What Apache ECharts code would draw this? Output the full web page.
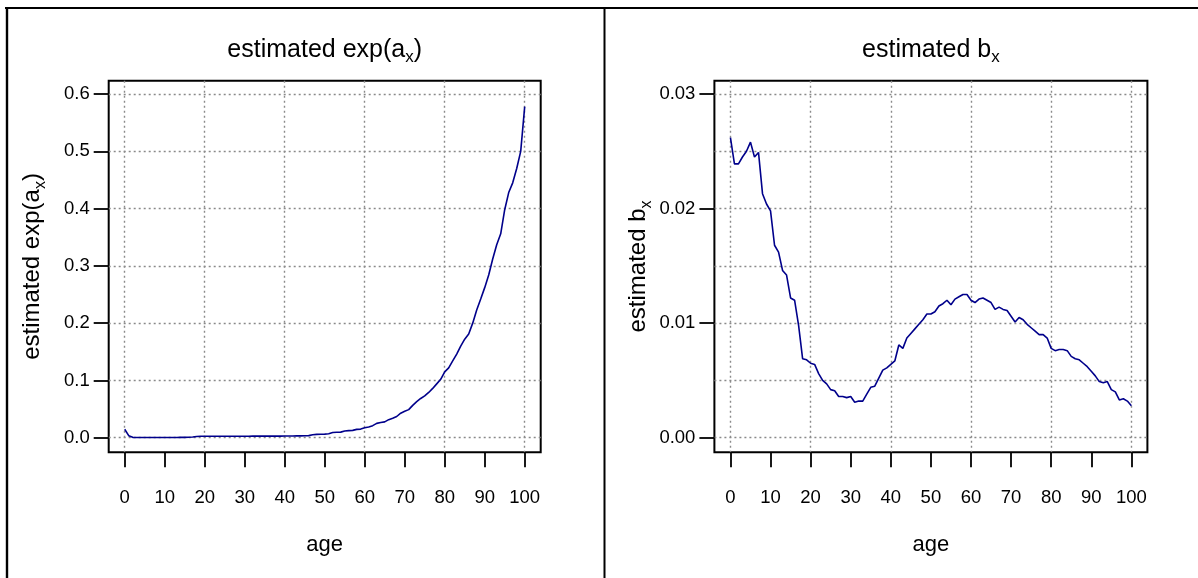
<!DOCTYPE html>
<html>
<head>
<meta charset="utf-8">
<script src="https://cdn.jsdelivr.net/npm/echarts@6/dist/echarts.min.js"></script>
<style>
  html, body { margin: 0; padding: 0; background: #fff; }
  #chart { width: 1198px; height: 578px; }
</style>
</head>
<body>
<div id="chart"></div>
<script>
// ---------- data ----------
const ages = [0,1,2,3,4,5,6,7,8,9,10,11,12,13,14,15,16,17,18,19,20,21,22,23,24,25,26,27,28,29,30,
  31,32,33,34,35,36,37,38,39,40,41,42,43,44,45,46,47,48,49,50,51,52,53,54,55,56,57,58,59,60,
  61,62,63,64,65,66,67,68,69,70,71,72,73,74,75,76,77,78,79,80,81,82,83,84,85,86,87,88,89,90,
  91,92,93,94,95,96,97,98,99,100];

const expAx = [0.0147,0.0035,0.0006,0.0004,0.0003,0.0003,0.0003,0.0003,0.0003,0.0003,
  0.0003,0.0003,0.0004,0.0004,0.0005,0.0006,0.0008,0.0012,0.0022,0.0025,
  0.0026,0.0026,0.0026,0.0026,0.0026,0.0026,0.0026,0.0026,0.0026,0.0026,
  0.0026,0.0026,0.0027,0.0027,0.0027,0.0027,0.0027,0.0028,0.0028,0.0028,
  0.0029,0.0029,0.0030,0.0031,0.0032,0.0033,0.0036,0.0052,0.0058,0.0060,
  0.0062,0.0068,0.0090,0.0094,0.0097,0.0118,0.0123,0.0128,0.0145,0.0150,
  0.0172,0.0188,0.0210,0.0250,0.0266,0.0276,0.0315,0.0340,0.0370,0.0428,
  0.0460,0.0490,0.0565,0.0630,0.0685,0.0730,0.0790,0.0860,0.0940,0.1020,
  0.1150,0.1220,0.1340,0.1460,0.1600,0.1720,0.1810,0.2000,0.2230,0.2420,
  0.2620,0.2840,0.3120,0.3370,0.3560,0.3980,0.4280,0.4450,0.4700,0.5000,
  0.5780];

const bx = [0.0262,0.0239,0.0239,0.0245,0.0250,0.0258,0.0245,0.0249,0.0213,0.0204,
  0.0198,0.0168,0.0162,0.0146,0.0142,0.0122,0.0120,0.0098,0.0069,0.0068,
  0.0065,0.0064,0.0056,0.0050,0.0047,0.0042,0.0041,0.0036,0.0036,0.0035,
  0.0036,0.0031,0.0032,0.0032,0.0038,0.0044,0.0045,0.0052,0.0059,0.0061,
  0.0064,0.0067,0.0081,0.0078,0.0087,0.0091,0.0095,0.0099,0.0103,0.0108,
  0.0108,0.0110,0.0115,0.0117,0.0120,0.0116,0.0121,0.0123,0.0125,0.0125,
  0.0120,0.0118,0.0121,0.0122,0.0120,0.0118,0.0112,0.0114,0.0112,0.0111,
  0.0106,0.0101,0.0105,0.0103,0.0099,0.0096,0.0093,0.0090,0.0090,0.0087,
  0.0078,0.0076,0.0077,0.0077,0.0076,0.0071,0.0069,0.0068,0.0065,0.0062,
  0.0058,0.0054,0.0049,0.0048,0.0049,0.0042,0.0040,0.0033,0.0034,0.0032,
  0.0028];

const xTicks = [0,10,20,30,40,50,60,70,80,90,100];
const xGridLines = [0,20,40,60,80,100];
const yTicksA = [0,0.1,0.2,0.3,0.4,0.5,0.6];
const yLabelsA = ['0.0','0.1','0.2','0.3','0.4','0.5','0.6'];
const yTicksB = [0,0.01,0.02,0.03];
const yLabelsB = ['0.00','0.01','0.02','0.03'];
const yGridB = [0,0.005,0.01,0.015,0.02,0.025,0.03];

const titleA = 'estimated exp(a', titleB = 'estimated b', sub = 'x';
const xName = 'age';

// ---------- styles ----------
const FONT = '"Liberation Sans", Arial, Helvetica, sans-serif';
const GRID_LINE = { color: '#8a8a8a', width: 1.4, type: [2, 3] };
const TICK = { show: true, inside: false, length: 15, lineStyle: { color: '#000', width: 1.8 } };
function rich(size) {
  return {
    n: { fontSize: size, fontFamily: FONT, fontWeight: 'normal', color: '#000', lineHeight: 32, verticalAlign: 'middle' },
    s: { fontSize: Math.round(size * 0.68), fontFamily: FONT, fontWeight: 'normal', color: '#000', lineHeight: 32, verticalAlign: 'bottom' }
  };
}
function mathText(main, tail) {
  return '{n|' + main + '}{s|' + sub + '}' + (tail ? '{n|' + tail + '}' : '');
}

const panels = [
  { left: 108.7, width: 432, yMin: -0.0255, yMax: 0.6233, yTicks: yTicksA, yLabels: yLabelsA, yGrid: yTicksA,
    title: mathText(titleA, ')'), yName: mathText(titleA, ')'), data: expAx },
  { left: 714.4, width: 433, yMin: -0.00127, yMax: 0.03116, yTicks: yTicksB, yLabels: yLabelsB, yGrid: yGridB,
    title: mathText(titleB, ''), yName: mathText(titleB, ''), data: bx }
];
const TOP = 80.7, HEIGHT = 371.6;

const grid = [], xAxis = [], yAxis = [], series = [], title = [];
panels.forEach((p, i) => {
  grid.push({ left: p.left, top: TOP, width: p.width, height: HEIGHT, show: true,
    borderColor: '#000', borderWidth: 2, backgroundColor: 'transparent' });
  // tick / label x axis
  xAxis.push({ gridIndex: i, type: 'value', min: -4, max: 104, position: 'bottom',
    name: xName, nameLocation: 'middle', nameGap: 82,
    nameTextStyle: { fontSize: 22, fontFamily: FONT, fontWeight: 'normal', color: '#000' },
    axisLine: { show: false, onZero: false },
    axisTick: Object.assign({ customValues: xTicks }, TICK),
    axisLabel: { customValues: xTicks, margin: 36.5, fontSize: 18.5, fontFamily: FONT, color: '#000' },
    splitLine: { show: false } });
  // grid-line x axis
  xAxis.push({ gridIndex: i, type: 'value', min: -4, max: 104, position: 'bottom',
    axisLine: { show: false, onZero: false },
    axisTick: { show: false, customValues: xGridLines },
    axisLabel: { show: false },
    splitLine: { show: true, lineStyle: GRID_LINE } });
  // tick / label y axis
  yAxis.push({ gridIndex: i, type: 'value', min: p.yMin, max: p.yMax, position: 'left',
    name: p.yName, nameLocation: 'middle', nameGap: 60,
    nameTextStyle: { rich: rich(24) },
    axisLine: { show: false, onZero: false },
    axisTick: Object.assign({ customValues: p.yTicks }, TICK),
    axisLabel: { customValues: p.yTicks, margin: 19, fontSize: 18.5, fontFamily: FONT, color: '#000',
      formatter: v => { const k = p.yTicks.indexOf(v); return k >= 0 ? p.yLabels[k] : String(v); } },
    splitLine: { show: false } });
  // grid-line y axis
  yAxis.push({ gridIndex: i, type: 'value', min: p.yMin, max: p.yMax, position: 'left',
    axisLine: { show: false, onZero: false },
    axisTick: { show: false, customValues: p.yGrid },
    axisLabel: { show: false },
    splitLine: { show: true, lineStyle: GRID_LINE } });
  title.push({ text: p.title, left: p.left + p.width / 2, top: 34, padding: 0,
    textAlign: 'center', textStyle: { fontWeight: 'normal', rich: rich(25) } });
  series.push({ type: 'line', xAxisIndex: 2 * i, yAxisIndex: 2 * i,
    data: ages.map((a, k) => [a, p.data[k]]),
    showSymbol: false, symbol: 'none', silent: true, clip: false,
    lineStyle: { color: '#00008B', width: 1.6 } });
});

const chart = echarts.init(document.getElementById('chart'), null, { renderer: 'canvas' });
chart.setOption({
  animation: false,
  backgroundColor: '#fff',
  title, grid, xAxis, yAxis, series,
  graphic: [
    { type: 'line', shape: { x1: 5, y1: 8, x2: 1198, y2: 8 }, style: { stroke: '#000', lineWidth: 2 } },
    { type: 'line', shape: { x1: 7, y1: 8, x2: 7, y2: 578 }, style: { stroke: '#000', lineWidth: 2.4 } },
    { type: 'line', shape: { x1: 604.5, y1: 8, x2: 604.5, y2: 578 }, style: { stroke: '#000', lineWidth: 2 } }
  ]
});
</script>
</body>
</html>
